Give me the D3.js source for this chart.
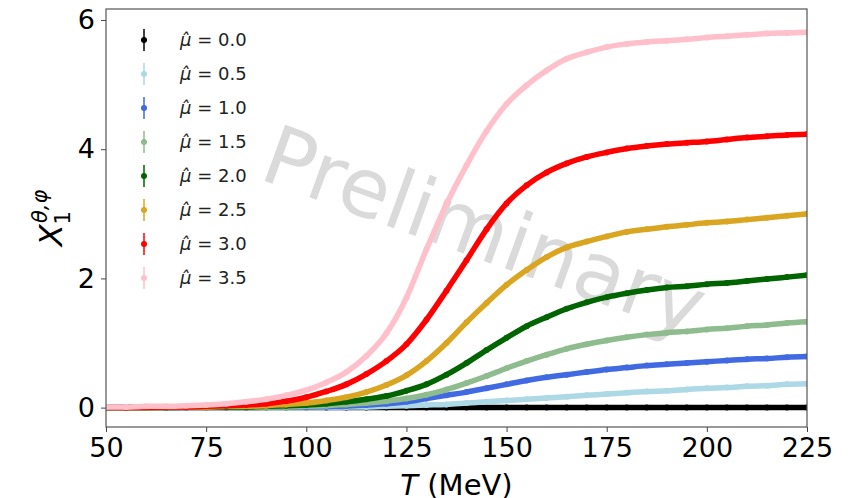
<!DOCTYPE html>
<html>
<head>
<meta charset="utf-8">
<script src="https://cdn.jsdelivr.net/npm/d3@7"></script>
<style>
  body { margin: 0; background: #fff; }
  svg { display: block; font-family: "DejaVu Sans", sans-serif; }
</style>
</head>
<body>
<script>
// temperatures (MeV)
const temps = [50, 55, 60, 65, 70, 75, 80, 85, 90, 95, 100, 105, 110, 115, 120, 125, 130, 135,
               140, 145, 150, 155, 160, 165, 170, 175, 180, 185, 190, 195, 200, 205, 210, 215, 220, 225];

const mu00 = [0, 0, 0, 0, 0, 0, 0, 0, 0, 0, 0, 0, 0, 0, 0, 0, 0, 0,
              0, 0, 0, 0, 0, 0, 0, 0, 0, 0, 0, 0, 0, 0, 0, 0, 0, 0];
const mu05 = [0, 0, 0, 0, 0, 0, 0, 0, 0, 0, 0, 0.005, 0.01, 0.01, 0.02, 0.03, 0.04, 0.05,
              0.07, 0.09, 0.11, 0.13, 0.15, 0.17, 0.19, 0.21, 0.23, 0.25, 0.26, 0.28, 0.30, 0.31, 0.33, 0.34, 0.36, 0.37];
const mu10 = [0, 0, 0, 0, 0, 0, 0, 0, 0.005, 0.005, 0.01, 0.015, 0.025, 0.04, 0.06, 0.09, 0.14, 0.19,
              0.24, 0.30, 0.36, 0.42, 0.47, 0.51, 0.55, 0.59, 0.62, 0.65, 0.67, 0.69, 0.71, 0.73, 0.75, 0.76, 0.78, 0.79];
const mu15 = [0, 0, 0, 0, 0, 0, 0.005, 0.005, 0.01, 0.01, 0.02, 0.03, 0.05, 0.07, 0.10, 0.14, 0.20, 0.28,
              0.38, 0.49, 0.61, 0.72, 0.82, 0.91, 0.98, 1.04, 1.09, 1.13, 1.16, 1.18, 1.21, 1.23, 1.26, 1.28, 1.31, 1.33];
const mu20 = [0, 0, 0, 0, 0.005, 0.005, 0.01, 0.01, 0.02, 0.03, 0.04, 0.06, 0.09, 0.13, 0.18, 0.26, 0.36, 0.51,
              0.69, 0.89, 1.08, 1.26, 1.40, 1.53, 1.63, 1.71, 1.77, 1.82, 1.86, 1.88, 1.91, 1.93, 1.96, 1.99, 2.02, 2.05];
const mu25 = [0, 0, 0, 0.005, 0.01, 0.01, 0.02, 0.02, 0.03, 0.05, 0.07, 0.11, 0.16, 0.24, 0.35, 0.50, 0.72, 1.00,
              1.32, 1.62, 1.90, 2.13, 2.33, 2.48, 2.57, 2.65, 2.72, 2.76, 2.80, 2.83, 2.86, 2.88, 2.91, 2.94, 2.97, 3.00];
const mu30 = [0, 0, 0.005, 0.01, 0.01, 0.02, 0.03, 0.04, 0.06, 0.10, 0.16, 0.25, 0.36, 0.52, 0.72, 0.98, 1.36, 1.81,
              2.28, 2.76, 3.16, 3.44, 3.64, 3.78, 3.88, 3.95, 4.01, 4.05, 4.08, 4.10, 4.12, 4.15, 4.18, 4.20, 4.22, 4.23];
const mu35 = [0.01, 0.01, 0.02, 0.02, 0.03, 0.04, 0.06, 0.09, 0.13, 0.19, 0.27, 0.39, 0.55, 0.80, 1.15, 1.70, 2.45, 3.15,
              3.75, 4.28, 4.70, 4.99, 5.22, 5.40, 5.50, 5.58, 5.63, 5.66, 5.68, 5.70, 5.73, 5.75, 5.77, 5.79, 5.80, 5.81];

const muLabels = ["0.0", "0.5", "1.0", "1.5", "2.0", "2.5", "3.0", "3.5"];
const colors = ["black", "lightblue", "royalblue", "darkseagreen", "darkgreen", "goldenrod", "red", "pink"];
const seriesValues = [mu00, mu05, mu10, mu15, mu20, mu25, mu30, mu35];

const xTicks = [50, 75, 100, 125, 150, 175, 200, 225];
const yTicks = [0, 2, 4, 6];

const W = 862, H = 498;
const margin = { top: 9, right: 55, bottom: 71, left: 106 };
const width = W - margin.left - margin.right;
const height = H - margin.top - margin.bottom;

const svg = d3.select("body").append("svg")
    .attr("width", W)
    .attr("height", H);

const x = d3.scaleLinear().domain([50, 225]).range([0, width]);
const y = d3.scaleLinear().domain([-0.30, 6.17]).range([height, 0]);

const g = svg.append("g")
    .attr("transform", `translate(${margin.left},${margin.top})`);

svg.append("defs").append("clipPath")
    .attr("id", "plotClip")
    .append("rect")
    .attr("width", width)
    .attr("height", height);

// watermark
g.append("text")
    .attr("transform", `translate(${x(144)},${y(2.65)}) rotate(20)`)
    .attr("text-anchor", "middle")
    .attr("dominant-baseline", "middle")
    .attr("font-size", 82)
    .attr("fill", "#dadada")
    .text("Preliminary");

// series
const line = d3.line()
    .x((d, i) => x(temps[i]))
    .y(d => y(d))
    .curve(d3.curveMonotoneX);

const plot = g.append("g").attr("clip-path", "url(#plotClip)");

seriesValues.forEach((vals, k) => {
    const s = plot.append("g");
    s.append("path")
        .datum(vals)
        .attr("fill", "none")
        .attr("stroke", colors[k])
        .attr("stroke-width", 5.5)
        .attr("stroke-linecap", "round")
        .attr("d", line);
    s.selectAll("circle")
        .data(vals)
        .enter().append("circle")
        .attr("cx", (d, i) => x(temps[i]))
        .attr("cy", d => y(d))
        .attr("r", 3)
        .attr("fill", colors[k]);
});

// axes
const xAxis = g.append("g")
    .attr("transform", `translate(0,${height})`)
    .call(d3.axisBottom(x).tickValues(xTicks).tickFormat(d3.format("d")).tickSize(5).tickPadding(6));
const yAxis = g.append("g")
    .call(d3.axisLeft(y).tickValues(yTicks).tickFormat(d3.format("d")).tickSize(5).tickPadding(6));

[xAxis, yAxis].forEach(a => {
    a.select(".domain").remove();
    a.selectAll(".tick line").attr("stroke", "#444");
    a.selectAll(".tick text")
        .attr("font-family", "DejaVu Sans")
        .attr("font-size", 27)
        .attr("fill", "#000");
});

// frame
g.append("rect")
    .attr("width", width)
    .attr("height", height)
    .attr("fill", "none")
    .attr("stroke", "#555")
    .attr("stroke-width", 1.2);

// axis labels
const xl = svg.append("text")
    .attr("x", margin.left + width / 2)
    .attr("y", 495)
    .attr("text-anchor", "middle")
    .attr("font-size", 29);
xl.append("tspan").attr("font-style", "italic").text("T");
xl.append("tspan").text(" (MeV)");

const yl = svg.append("text")
    .attr("transform", `translate(62,${margin.top + height / 2}) rotate(-90)`)
    .attr("text-anchor", "middle")
    .attr("font-size", 32);
yl.append("tspan").attr("font-style", "italic").text("X");
yl.append("tspan").attr("font-size", 21).attr("dy", 8).text("1");
yl.append("tspan").attr("font-size", 21).attr("font-style", "italic").attr("dy", -23).attr("dx", -12).text("θ,φ");

// legend
const legend = svg.append("g").attr("transform", "translate(144,40)");
muLabels.forEach((lab, k) => {
    const row = legend.append("g").attr("transform", `translate(0,${k * 34})`);
    row.append("line")
        .attr("x1", 0).attr("x2", 0)
        .attr("y1", -11).attr("y2", 11)
        .attr("stroke", colors[k])
        .attr("stroke-width", 1.5);
    row.append("circle")
        .attr("r", 3)
        .attr("fill", colors[k]);
    const t = row.append("text")
        .attr("x", 36)
        .attr("y", 6)
        .attr("font-size", 18)
        .attr("fill", "#222");
    t.append("tspan").attr("font-style", "italic").text("μ\u0302");
    t.append("tspan").text(" = " + lab);
});
</script>
</body>
</html>
